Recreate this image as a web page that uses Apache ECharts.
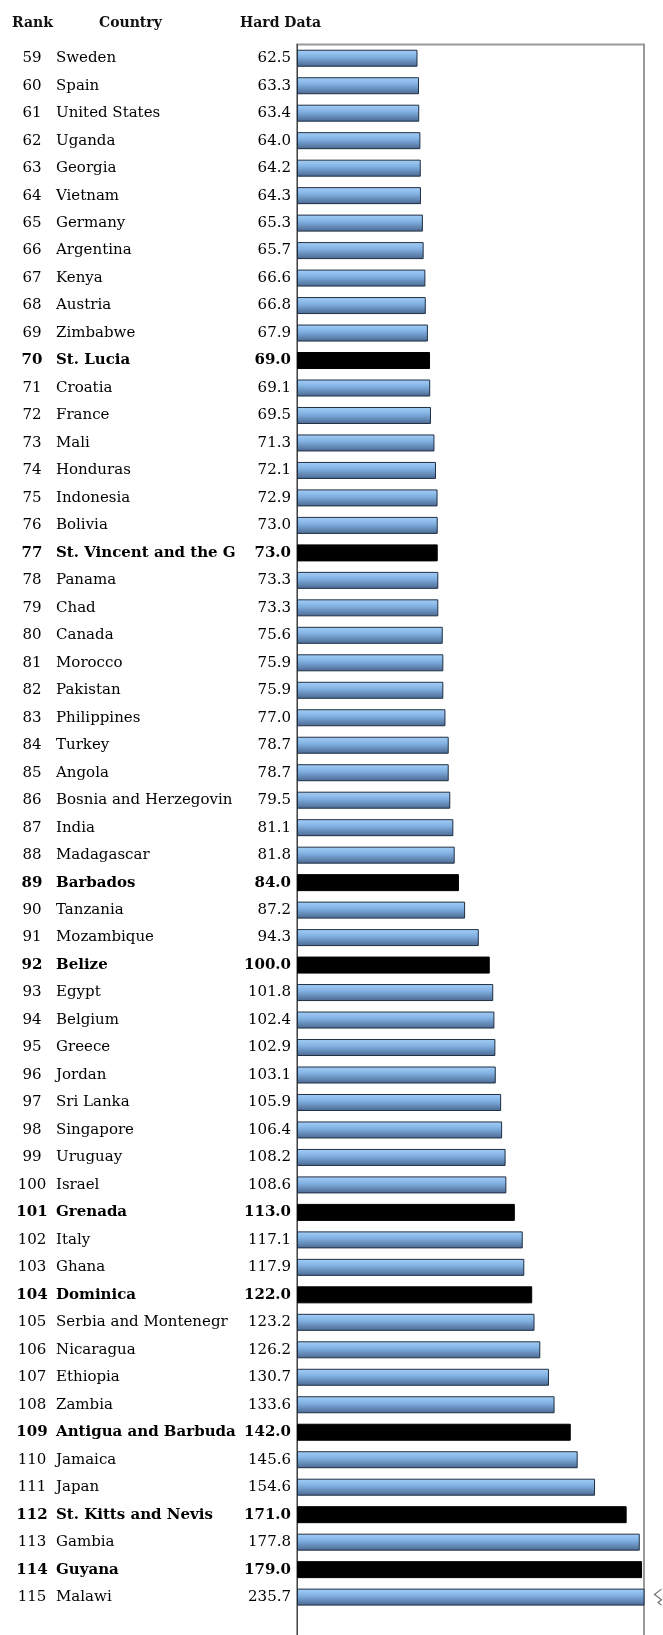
<!DOCTYPE html>
<html>
<head>
<meta charset="utf-8">
<script src="https://cdn.jsdelivr.net/npm/echarts@6/dist/echarts.min.js"></script>
<style>html,body{margin:0;padding:0;background:#fff}#c{width:663px;height:1635px}</style>
</head>
<body>
<div id="c"></div>
<script>
const ranks = [59,60,61,62,63,64,65,66,67,68,69,70,71,72,73,74,75,76,77,78,79,80,81,82,83,84,85,86,87,88,89,90,91,92,93,94,95,96,97,98,99,100,101,102,103,104,105,106,107,108,109,110,111,112,113,114,115];
const countries = ["Sweden","Spain","United States","Uganda","Georgia","Vietnam","Germany","Argentina","Kenya","Austria","Zimbabwe","St. Lucia","Croatia","France","Mali","Honduras","Indonesia","Bolivia","St. Vincent and the Grenadines","Panama","Chad","Canada","Morocco","Pakistan","Philippines","Turkey","Angola","Bosnia and Herzegovina","India","Madagascar","Barbados","Tanzania","Mozambique","Belize","Egypt","Belgium","Greece","Jordan","Sri Lanka","Singapore","Uruguay","Israel","Grenada","Italy","Ghana","Dominica","Serbia and Montenegro","Nicaragua","Ethiopia","Zambia","Antigua and Barbuda","Jamaica","Japan","St. Kitts and Nevis","Gambia","Guyana","Malawi"];
const hardData = [62.5,63.3,63.4,64.0,64.2,64.3,65.3,65.7,66.6,66.8,67.9,69.0,69.1,69.5,71.3,72.1,72.9,73.0,73.0,73.3,73.3,75.6,75.9,75.9,77.0,78.7,78.7,79.5,81.1,81.8,84.0,87.2,94.3,100.0,101.8,102.4,102.9,103.1,105.9,106.4,108.2,108.6,113.0,117.1,117.9,122.0,123.2,126.2,130.7,133.6,142.0,145.6,154.6,171.0,177.8,179.0,235.7];
const highlighted = ["St. Lucia","St. Vincent and the Grenadines","Barbados","Belize","Grenada","Dominica","Antigua and Barbuda","St. Kitts and Nevis","Guyana"];
const headers = ["Rank","Country","Hard Data"];

const FONT = 'DejaVu Serif';
const isHi = c => highlighted.indexOf(c) >= 0;
function axisData(labels, align) {
  const d = labels.map((v, i) => ({
    value: String(v),
    textStyle: {fontWeight: isHi(countries[i]) ? 'bold' : 'normal', align: align, verticalAlign: 'middle'}
  }));
  d.push({value: '', textStyle: {align: align}});
  return d;
}
const blueGrad = new echarts.graphic.LinearGradient(0, 0, 0, 1, [
  {offset: 0, color: '#a6cff8'},
  {offset: 0.4, color: '#82b2e3'},
  {offset: 1, color: '#4a6790'}
]);
const barData = hardData.map((v, i) => ({
  value: v,
  itemStyle: isHi(countries[i]) ? {color: '#000', borderColor: '#000'} : {color: blueGrad, borderColor: '#1f2f42'}
}));
barData.push(null);

const baseY = {
  type: 'category', inverse: true, position: 'left', offset: 0,
  axisTick: {show: false}, axisLine: {show: false}, splitLine: {show: false}
};
const lbl = {interval: 0, fontFamily: FONT, fontSize: 15, color: '#000'};

const chart = echarts.init(document.getElementById('c'), null, {renderer: 'canvas'});
chart.setOption({
  animation: false,
  backgroundColor: '#fff',
  grid: {left: 297, right: 19, top: 44.5, height: 27.48 * 58, show: true, borderColor: '#9a9a9a', borderWidth: 2, containLabel: false, outerBoundsMode: 'none'},
  xAxis: {type: 'value', min: 0, max: 180, show: false},
  yAxis: [
    Object.assign({}, baseY, {data: axisData(hardData.map(v => v.toFixed(1)), 'right'),
      axisLine: {show: true, lineStyle: {color: '#444', width: 1}},
      axisLabel: Object.assign({}, lbl, {margin: 6, align: 'right'})}),
    Object.assign({}, baseY, {data: axisData(ranks, 'center'),
      axisLabel: Object.assign({}, lbl, {margin: 265, align: 'center'})}),
    Object.assign({}, baseY, {data: axisData(countries, 'left'),
      axisLabel: Object.assign({}, lbl, {margin: 241, align: 'left', width: 181, overflow: 'truncate', ellipsis: ''})})
  ],
  series: [{
    type: 'bar', yAxisIndex: 0, data: barData, barWidth: 17, clip: true,
    itemStyle: {borderWidth: 1},
    markPoint: {
      silent: true,
      symbol: 'path://M6,0 L0,6 L6,12 L3,15 L6,18',
      symbolSize: [7, 16],
      symbolOffset: [14, 0],
      itemStyle: {color: 'none', borderColor: '#777', borderWidth: 1},
      label: {show: false},
      data: [{coord: [180, countries.length - 1]}]
    }
  }],
  graphic: [
    {type: 'text', left: 12, top: 16, style: {text: headers[0], font: 'bold 14px "' + FONT + '"', fill: '#111'}},
    {type: 'text', left: 99, top: 16, style: {text: headers[1], font: 'bold 14px "' + FONT + '"', fill: '#111'}},
    {type: 'text', left: 240, top: 16, style: {text: headers[2], font: 'bold 14px "' + FONT + '"', fill: '#111'}}
  ]
});
</script>
</body>
</html>
